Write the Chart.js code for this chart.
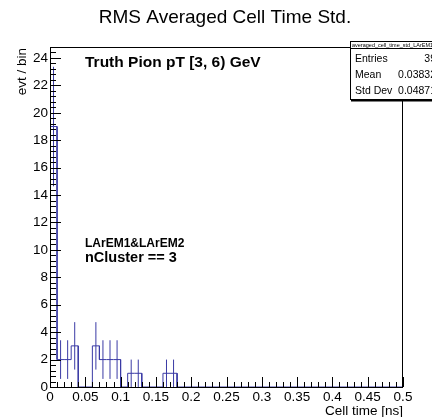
<!DOCTYPE html>
<html>
<head>
<meta charset="utf-8">
<title>RMS Averaged Cell Time Std.</title>
<script src="https://cdn.jsdelivr.net/npm/chart.js@4.4.1/dist/chart.umd.min.js"></script>
<style>
  html, body { margin: 0; padding: 0; background: #fff; }
  #wrap { width: 432px; height: 417px; }
</style>
</head>
<body>
<div id="wrap"><canvas id="cellTime" width="432" height="417"></canvas></div>
<script>
// histogram contents: 0.01 ns bins, everything above 0.18 ns is empty
var binEdges = [0, 0.01, 0.02, 0.03, 0.04, 0.05, 0.06, 0.07, 0.08, 0.09,
                0.10, 0.11, 0.12, 0.13, 0.14, 0.15, 0.16, 0.17, 0.18];
var binCounts = [19, 2, 2, 3, 0, 0, 3, 2, 2, 2, 0, 1, 1, 0, 0, 0, 1, 1];
var binErrors = [4.36, 1.41, 1.41, 1.73, 0, 0, 1.73, 1.41, 1.41, 1.41, 0, 1, 1, 0, 0, 0, 1, 1];

var xTickValues = [0, 0.05, 0.1, 0.15, 0.2, 0.25, 0.3, 0.35, 0.4, 0.45, 0.5];
var yTickValues = [0, 2, 4, 6, 8, 10, 12, 14, 16, 18, 20, 22, 24];

var statsNames = ['Entries', 'Mean', 'Std Dev'];
var statsValues = ['39', '0.03832', '0.04871'];

var FONT = "'Liberation Sans', Arial, Helvetica, sans-serif";
var LINE = 'rgb(58, 58, 165)';
var X_MAX = 0.5, Y_MAX = 24.8;

// outline of the histogram as a step line
var stepPoints = [{x: binEdges[0], y: 0}];
binCounts.forEach(function(c, i) {
    stepPoints.push({x: binEdges[i], y: c});
    stepPoints.push({x: binEdges[i + 1], y: c});
});
stepPoints.push({x: binEdges[binEdges.length - 1], y: 0});
stepPoints.push({x: X_MAX, y: 0});

// vertical error bars at the bin centres, separated by gaps
var errPoints = [];
binCounts.forEach(function(c, i) {
    if (c > 0) {
        var xc = (binEdges[i] + binEdges[i + 1]) / 2;
        errPoints.push({x: xc, y: c - binErrors[i]});
        errPoints.push({x: xc, y: c + binErrors[i]});
        errPoints.push({x: xc, y: null});
    }
});

// ROOT-like frame: ticks inside the pad, black box around it
var framePlugin = {
    id: 'framePlugin',
    afterDatasetsDraw: function(chart) {
        var ctx = chart.ctx, a = chart.chartArea;
        var xs = chart.scales.x, ys = chart.scales.y;
        ctx.save();
        ctx.strokeStyle = '#000';
        ctx.lineWidth = 1;
        ctx.beginPath();
        for (var i = 0; i <= 50; i++) {
            var px = Math.round(xs.getPixelForValue(i * 0.01)) + 0.5;
            var len = (i % 5 === 0) ? 10 : 5;
            ctx.moveTo(px, a.bottom);
            ctx.lineTo(px, a.bottom - len);
        }
        for (var j = 0; j <= 62; j++) {
            var py = Math.round(ys.getPixelForValue(j * 0.4)) + 0.5;
            var ln = (j % 5 === 0) ? 11 : 6;
            ctx.moveTo(a.left, py);
            ctx.lineTo(a.left + ln, py);
        }
        ctx.stroke();
        ctx.strokeRect(a.left + 0.5, a.top + 0.5, a.right - a.left - 1, a.bottom - a.top);
        ctx.restore();
    },
    afterDraw: function(chart) {
        var ctx = chart.ctx, a = chart.chartArea;
        ctx.save();
        ctx.fillStyle = '#000';
        ctx.textBaseline = 'middle';

        ctx.font = '19px ' + FONT;
        ctx.textAlign = 'center';
        ctx.fillText('RMS Averaged Cell Time Std.', 225, 18);

        ctx.textAlign = 'left';
        ctx.font = 'bold 15.5px ' + FONT;
        ctx.fillText('Truth Pion pT [3, 6) GeV', 85, 63);
        ctx.font = 'bold 12px ' + FONT;
        ctx.fillText('LArEM1&LArEM2', 85, 243.5);
        ctx.font = 'bold 14.5px ' + FONT;
        ctx.fillText('nCluster == 3', 85, 258);

        ctx.font = '13.5px ' + FONT;
        ctx.textAlign = 'right';
        ctx.fillText('Cell time [ns]', a.right, 411);

        ctx.save();
        ctx.translate(22, 48);
        ctx.rotate(-Math.PI / 2);
        ctx.fillText('evt / bin', 0, 0);
        ctx.restore();

        // stats box
        var bx = 350, by = 41, bw = 92, hh = 7, bh = 58;
        ctx.fillStyle = '#fff';
        ctx.fillRect(bx, by, bw, bh);
        ctx.strokeStyle = '#000';
        ctx.lineWidth = 1;
        ctx.strokeRect(bx + 0.5, by + 0.5, bw, bh);
        ctx.beginPath();
        ctx.moveTo(bx, by + hh + 0.5);
        ctx.lineTo(bx + bw, by + hh + 0.5);
        ctx.stroke();
        ctx.fillStyle = '#000';
        ctx.fillRect(bx + 1, by + bh + 1, bw, 1.5);

        ctx.font = '5.5px ' + FONT;
        ctx.textAlign = 'left';
        ctx.fillText('averaged_cell_time_std_LArEM1andLArEM2', bx + 2, by + 4);

        ctx.font = '10.5px ' + FONT;
        statsNames.forEach(function(name, k) {
            var ry = 59.5 + k * 15.7;
            ctx.textAlign = 'left';
            ctx.fillText(name, bx + 5, ry);
            ctx.textAlign = 'right';
            ctx.fillText(statsValues[k], 436, ry);
        });
        ctx.restore();
    }
};

new Chart(document.getElementById('cellTime').getContext('2d'), {
    type: 'scatter',
    data: {
        datasets: [{
            data: stepPoints,
            showLine: true,
            borderColor: LINE,
            borderWidth: 1,
            pointRadius: 0,
            fill: false
        }, {
            data: errPoints,
            showLine: true,
            spanGaps: false,
            borderColor: LINE,
            borderWidth: 1,
            pointRadius: 0,
            fill: false
        }]
    },
    options: {
        responsive: false,
        animation: false,
        events: [],
        layout: { padding: { top: 47, right: 29, left: 0, bottom: 0 } },
        plugins: {
            legend: { display: false },
            tooltip: { enabled: false },
            title: { display: false }
        },
        scales: {
            x: {
                type: 'linear',
                min: 0,
                max: X_MAX,
                afterFit: function(s) { s.height = 30; },
                afterBuildTicks: function(s) {
                    s.ticks = xTickValues.map(function(v) { return {value: v}; });
                },
                grid: { display: false, drawTicks: false },
                border: { display: false },
                ticks: {
                    padding: 2,
                    color: '#000',
                    maxRotation: 0,
                    autoSkip: false,
                    font: { family: FONT, size: 13.5 },
                    callback: function(v) { return String(Number(v.toFixed(2))); }
                }
            },
            y: {
                min: 0,
                max: Y_MAX,
                afterFit: function(s) { s.width = 50; },
                afterBuildTicks: function(s) {
                    s.ticks = yTickValues.map(function(v) { return {value: v}; });
                },
                grid: { display: false, drawTicks: false },
                border: { display: false },
                ticks: {
                    padding: 2,
                    color: '#000',
                    autoSkip: false,
                    font: { family: FONT, size: 13.5 }
                }
            }
        }
    },
    plugins: [framePlugin]
});
</script>
</body>
</html>
